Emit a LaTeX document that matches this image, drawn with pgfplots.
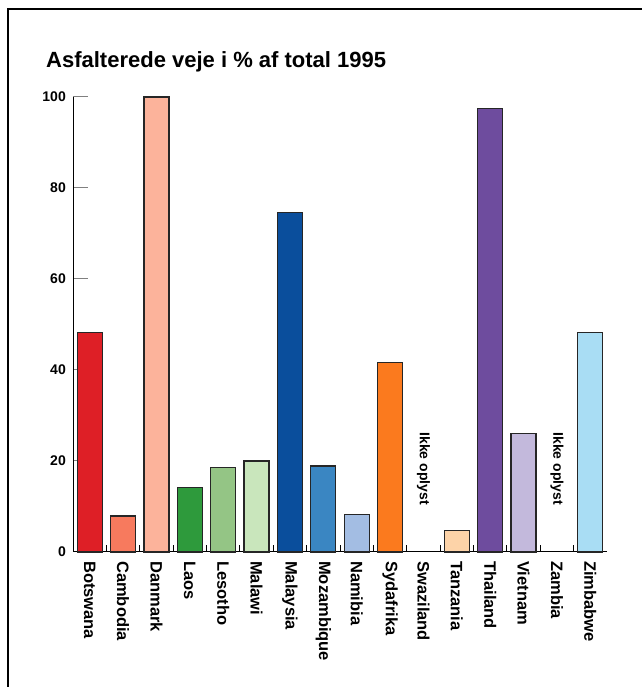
\documentclass[border=0pt]{standalone}
\usepackage{fontspec}
\setmainfont{Liberation Sans}
\usepackage{pgfplots}
\pgfplotsset{compat=1.18}
\definecolor{cBots}{HTML}{DE1F26}
\definecolor{cCamb}{HTML}{F77A5E}
\definecolor{cDanm}{HTML}{FCB39B}
\definecolor{cLaos}{HTML}{2E9A3C}
\definecolor{cLeso}{HTML}{94C585}
\definecolor{cMala}{HTML}{C9E6BC}
\definecolor{cMalay}{HTML}{0A4E9C}
\definecolor{cMoza}{HTML}{3A86C2}
\definecolor{cNami}{HTML}{A3BDE3}
\definecolor{cSyd}{HTML}{FB7A1E}
\definecolor{cTanz}{HTML}{FDD3A8}
\definecolor{cThai}{HTML}{6E4C9E}
\definecolor{cViet}{HTML}{C3B9DC}
\definecolor{cZimb}{HTML}{A9DDF4}
\begin{document}
\begin{tikzpicture}
\useasboundingbox (0pt,0pt) rectangle (641pt,687pt);
\draw[line width=1.6pt] (8pt,-20pt) -- (8pt,678pt) -- (700pt,678pt);
\node[anchor=west, font=\bfseries\fontsize{22}{26}\selectfont, inner sep=0pt] at (46pt,625pt) {Asfalterede veje i \% af total 1995};
\begin{axis}[
    at={(73pt,135pt)}, anchor=south west,
    scale only axis, width=534pt, height=455pt,
    xmin=-0.5, xmax=15.5, ymin=0, ymax=100,
    axis x line*=bottom, axis y line*=left,
    axis line style={line width=1pt},
    ybar, bar width=25pt, bar shift=0pt,
    every axis plot/.append style={draw=black!85, line width=1.2pt},
    xtick={0,...,15},
    xticklabels={Botswana,Cambodia,Danmark,Laos,Lesotho,Malawi,Malaysia,Mozambique,Namibia,Sydafrika,Swaziland,Tanzania,Thailand,Vietnam,Zambia,Zimbabwe},
    xtick style={draw=none},
    xticklabel style={rotate=-90, anchor=west, font=\bfseries\fontsize{16.5}{16.5}\selectfont, inner sep=9pt},
    ytick={0,20,40,60,80,100},
    ytick style={line width=1pt},
    tick align=inside, major tick length=15pt,
    yticklabel style={font=\bfseries\fontsize{14}{14}\selectfont, inner sep=7pt},
    /pgf/number format/assume math mode=true,
    clip=false,
]
\addplot[fill=cBots] coordinates {(0,48.2)};
\addplot[fill=cCamb] coordinates {(1,7.9)};
\addplot[fill=cDanm] coordinates {(2,100)};
\addplot[fill=cLaos] coordinates {(3,14.2)};
\addplot[fill=cLeso] coordinates {(4,18.5)};
\addplot[fill=cMala] coordinates {(5,20.0)};
\addplot[fill=cMalay] coordinates {(6,74.6)};
\addplot[fill=cMoza] coordinates {(7,18.9)};
\addplot[fill=cNami] coordinates {(8,8.3)};
\addplot[fill=cSyd] coordinates {(9,41.6)};
\addplot[fill=cTanz] coordinates {(11,4.8)};
\addplot[fill=cThai] coordinates {(12,97.5)};
\addplot[fill=cViet] coordinates {(13,26.1)};
\addplot[fill=cZimb] coordinates {(15,48.2)};
\pgfplotsinvokeforeach{0,...,14}{
  \draw[line width=1pt] (axis cs:#1.5,0) -- ++(0pt,7pt);
}
\node[rotate=-90, anchor=west, font=\bfseries\fontsize{14}{14}\selectfont, inner sep=0pt] at (axis cs:10,26.3) {Ikke oplyst};
\node[rotate=-90, anchor=west, font=\bfseries\fontsize{14}{14}\selectfont, inner sep=0pt] at (axis cs:14,26.3) {Ikke oplyst};
\end{axis}
\end{tikzpicture}
\end{document}
